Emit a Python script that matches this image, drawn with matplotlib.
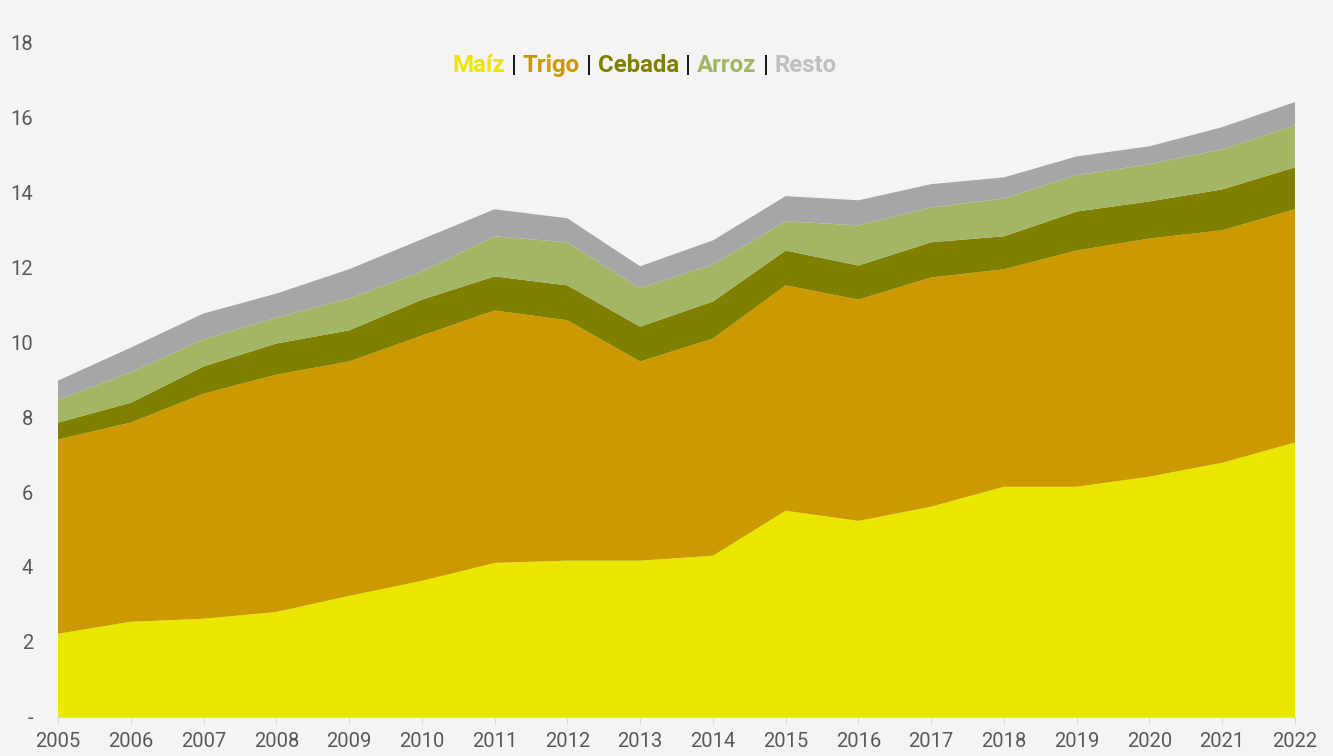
import matplotlib
matplotlib.use("Agg")
import matplotlib.pyplot as plt
from matplotlib.offsetbox import TextArea, HPacker, AnchoredOffsetbox

years = list(range(2005, 2023))
maiz = [2.22, 2.54, 2.62, 2.80, 3.23, 3.63, 4.11, 4.17, 4.17, 4.30,
        5.50, 5.23, 5.61, 6.14, 6.14, 6.41, 6.78, 7.32]
trigo = [5.18, 5.31, 6.00, 6.33, 6.25, 6.54, 6.73, 6.41, 5.31, 5.79,
         6.01, 5.90, 6.11, 5.80, 6.30, 6.35, 6.20, 6.22]
cebada = [0.45, 0.53, 0.73, 0.83, 0.83, 0.96, 0.91, 0.93, 0.93, 0.99,
          0.93, 0.91, 0.94, 0.88, 1.04, 0.99, 1.09, 1.12]
arroz = [0.61, 0.81, 0.72, 0.69, 0.85, 0.75, 1.07, 1.15, 1.02, 0.99,
         0.78, 1.07, 0.93, 1.01, 0.97, 0.99, 1.07, 1.12]
resto = [0.51, 0.66, 0.69, 0.64, 0.78, 0.86, 0.72, 0.64, 0.59, 0.64,
         0.67, 0.67, 0.62, 0.56, 0.50, 0.48, 0.59, 0.62]

names = ["Maíz", "Trigo", "Cebada", "Arroz", "Resto"]
colors = ["#ebe600", "#cc9900", "#808000", "#a2b665", "#a6a6a6"]
text_colors = ["#ebe600", "#cc9900", "#808000", "#a2b665", "#c0c0c0"]

bg = "#f4f4f4"
plt.rcParams["font.family"] = ["Roboto", "DejaVu Sans"]

fig = plt.figure(figsize=(13.33, 7.56), dpi=100, facecolor=bg)
ax = fig.add_axes([0.0435, 0.0516, 0.928, 0.8928], facecolor=bg)

ax.stackplot(years, maiz, trigo, cebada, arroz, resto, colors=colors,
             linewidth=0)

ax.set_xlim(2005, 2022)
ax.set_ylim(0, 18)
ax.set_xticks(years)
ax.set_xticklabels([str(y) for y in years])
yt = list(range(0, 19, 2))
ax.set_yticks(yt)
ax.set_yticklabels(["-"] + [str(v) for v in yt[1:]])

for s in ["top", "right", "left"]:
    ax.spines[s].set_visible(False)
ax.spines["bottom"].set_color("#d9d9d9")
ax.tick_params(axis="x", colors="#d9d9d9", labelcolor="#595959",
               labelsize=14.5, length=5, pad=6)
ax.tick_params(axis="y", length=0, labelcolor="#595959", labelsize=14.5,
               pad=18)

# coloured title legend
parts = []
for i, (n, c) in enumerate(zip(names, text_colors)):
    parts.append(TextArea(n, textprops=dict(color=c, fontsize=17.3,
                                            fontweight="bold")))
    if i < len(names) - 1:
        parts.append(TextArea(" | ", textprops=dict(color="#1a1a1a",
                                                    fontsize=17.3,
                                                    fontweight="bold")))
box = HPacker(children=parts, align="baseline", pad=0, sep=0)
anch = AnchoredOffsetbox(loc="center", child=box, frameon=False,
                         bbox_to_anchor=(0.4835, 0.914),
                         bbox_transform=fig.transFigure)
fig.add_artist(anch)

fig.savefig("out.png", dpi=100, facecolor=bg)
